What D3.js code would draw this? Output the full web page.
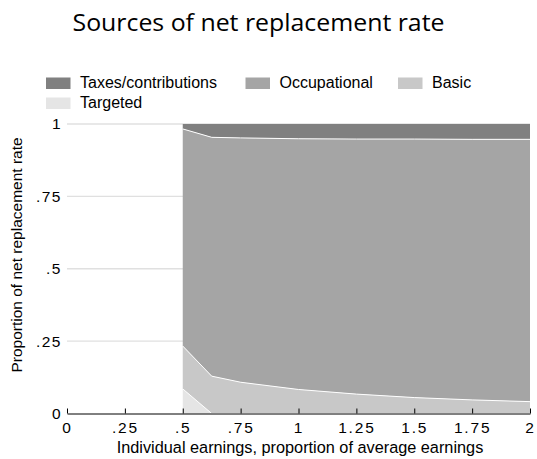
<!DOCTYPE html>
<html>
<head>
<meta charset="utf-8">
<script src="https://cdn.jsdelivr.net/npm/d3@7/dist/d3.min.js"></script>
<style>
  html, body { margin: 0; padding: 0; background: #fff; }
  svg { display: block; }
  text { font-family: "Liberation Sans", Arial, sans-serif; fill: #000; }
</style>
</head>
<body>
<svg id="chart" width="537" height="459"></svg>
<script>
// ---- data ----
const earnings = [0.5, 0.625, 0.75, 1, 1.25, 1.5, 1.75, 2];
const targeted = [0.085, 0, 0, 0, 0, 0, 0, 0];
const basic = [0.148, 0.129, 0.108, 0.083, 0.067, 0.055, 0.047, 0.041];
const occupational = [0.750, 0.825, 0.844, 0.866, 0.881, 0.893, 0.900, 0.906];
const taxes = [0.017, 0.046, 0.048, 0.051, 0.052, 0.052, 0.053, 0.053];
const seriesNames = ["Targeted", "Basic", "Occupational", "Taxes/contributions"];
const legendOrder = ["Taxes/contributions", "Occupational", "Basic", "Targeted"];
const xTicks = [0, 0.25, 0.5, 0.75, 1, 1.25, 1.5, 1.75, 2];
const xTickLabels = ["0", ".25", ".5", ".75", "1", "1.25", "1.5", "1.75", "2"];
const yTicks = [0, 0.25, 0.5, 0.75, 1];
const yTickLabels = ["0", ".25", ".5", ".75", "1"];
const colors = {"Targeted": "#e5e5e5", "Basic": "#c8c8c8", "Occupational": "#a5a5a5", "Taxes/contributions": "#808080"};

const rows = earnings.map((e, i) => ({
  x: e, "Targeted": targeted[i], "Basic": basic[i],
  "Occupational": occupational[i], "Taxes/contributions": taxes[i]
}));

const svg = d3.select("#chart");
const x = d3.scaleLinear().domain([0, 2]).range([67, 530]);
const y = d3.scaleLinear().domain([0, 1]).range([413.5, 124]);

// title
svg.append("text").attr("x", 258.5).attr("y", 31).attr("text-anchor", "middle")
  .style("font-family", "'Open Sans', sans-serif").style("font-size", "23px")
  .attr("textLength", 372).attr("lengthAdjust", "spacingAndGlyphs")
  .text("Sources of net replacement rate");

// legend
const legPos = [[46, 77.5], [245.5, 77.5], [398, 77.5], [46, 97.5]];
legendOrder.forEach((name, i) => {
  const [lx, ly] = legPos[i];
  svg.append("rect").attr("x", lx).attr("y", ly).attr("width", 24.5).attr("height", 11.5)
    .attr("fill", colors[name]);
  svg.append("text").attr("x", lx + 34).attr("y", ly + 10.5).style("font-size", "16px")
    .text(name);
});

// gridlines
svg.append("g").selectAll("line").data(yTicks.filter(d => d > 0)).join("line")
  .attr("x1", 67).attr("x2", 530).attr("y1", d => y(d)).attr("y2", d => y(d))
  .attr("stroke", "#e0e0e0").attr("stroke-width", 1.3);

// stacked areas
const stack = d3.stack().keys(seriesNames);
const layers = stack(rows);
const area = d3.area().x(d => x(d.data.x)).y0(d => y(d[0])).y1(d => y(d[1]));
const line = d3.line().x(d => x(d.data.x)).y(d => y(d[1]));
svg.append("g").selectAll("path").data(layers).join("path")
  .attr("d", area).attr("fill", d => colors[d.key]);
svg.append("g").selectAll("path").data(layers.slice(0, 3)).join("path")
  .attr("d", line).attr("fill", "none").attr("stroke", "#fff").attr("stroke-width", 1);

// x axis
const xAxis = d3.axisBottom(x).tickValues(xTicks).tickSizeInner(-5).tickSizeOuter(0)
  .tickFormat((d, i) => xTickLabels[i]).tickPadding(8);
const gx = svg.append("g").attr("transform", "translate(0,413.5)").call(xAxis);
gx.select(".domain").attr("stroke", "#000");
gx.selectAll(".tick line").attr("stroke", "#000");
gx.selectAll("text").style("font-size", "15.5px").style("font-family", "'Liberation Sans', Arial, sans-serif")
  .style("letter-spacing", "1.8px").attr("fill", "#000");

// y axis labels
const yAxis = d3.axisLeft(y).tickValues(yTicks).tickSize(0).tickPadding(5)
  .tickFormat((d, i) => yTickLabels[i]);
const gy = svg.append("g").attr("transform", "translate(67,0)").call(yAxis);
gy.select(".domain").remove();
gy.selectAll("text").style("font-size", "15.5px").style("font-family", "'Liberation Sans', Arial, sans-serif")
  .style("letter-spacing", "1.5px").attr("fill", "#000");

// axis titles
svg.append("text").attr("x", 300).attr("y", 452.5).attr("text-anchor", "middle")
  .style("font-size", "16.3px").text("Individual earnings, proportion of average earnings");
svg.append("text").attr("transform", "translate(22,255) rotate(-90)").attr("text-anchor", "middle")
  .style("font-size", "15.5px").text("Proportion of net replacement rate");
</script>
</body>
</html>
